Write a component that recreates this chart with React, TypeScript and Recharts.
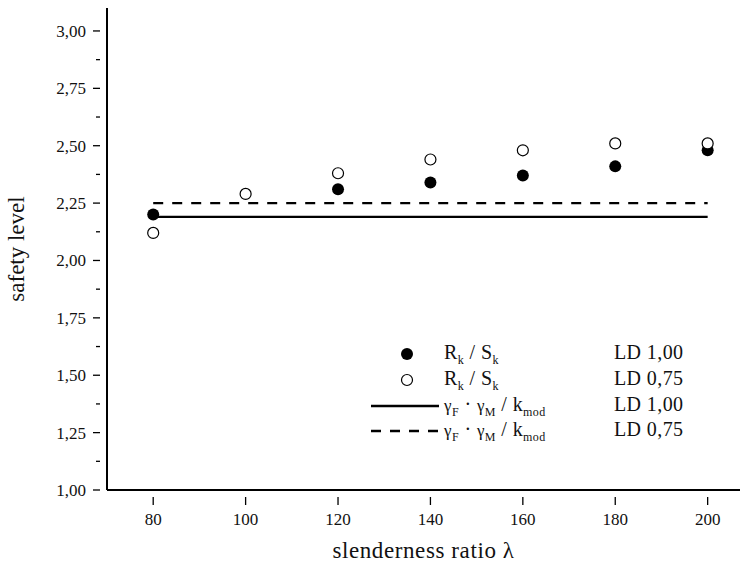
import { ComposedChart, Scatter, Line, XAxis, YAxis } from 'recharts';

const SLENDERNESS = [80, 100, 120, 140, 160, 180, 200];
// LD 1,00 has no value at 100
const RS_LD100: (number | null)[] = [2.2, null, 2.31, 2.34, 2.37, 2.41, 2.48];
const RS_LD075: (number | null)[] = [2.12, 2.29, 2.38, 2.44, 2.48, 2.51, 2.51];
const LINE_X = [80, 200];
const GAMMA_LD100 = [2.19, 2.19];
const GAMMA_LD075 = [2.25, 2.25];
const X_TICKS = [80, 100, 120, 140, 160, 180, 200];
const Y_TICKS = [1, 1.125, 1.25, 1.375, 1.5, 1.625, 1.75, 1.875, 2, 2.125, 2.25, 2.375, 2.5, 2.625, 2.75, 2.875, 3];

const FONT = '"Liberation Serif", "DejaVu Serif", serif';

const toPoints = (ys: (number | null)[]) =>
  SLENDERNESS.map((x, i) => ({ x, y: ys[i] })).filter((p) => p.y !== null);
const toLine = (ys: number[]) => LINE_X.map((x, i) => ({ x, y: ys[i] }));

const filledData = toPoints(RS_LD100);
const openData = toPoints(RS_LD075);
const solidData = toLine(GAMMA_LD100);
const dashedData = toLine(GAMMA_LD075);

const YTick = (props: any) => {
  const { x, y, payload } = props;
  const major = Math.abs((payload.value * 4) % 1) < 1e-6;
  return (
    <g>
      <line x1={x + 1} x2={x + 1 - (major ? 7 : 4)} y1={y} y2={y} stroke="#000" strokeWidth={1.3} />
      {major && (
        <text x={x - 13} y={y + 6} textAnchor="end" fontSize={17} fontFamily={FONT} fill="#111">
          {payload.value.toFixed(2).replace('.', ',')}
        </text>
      )}
    </g>
  );
};

const XTick = (props: any) => {
  const { x, y, payload } = props;
  return (
    <g>
      <line x1={x} x2={x} y1={y - 1} y2={y + 7} stroke="#000" strokeWidth={1.3} />
      <text x={x} y={y + 27} textAnchor="middle" fontSize={17} fontFamily={FONT} fill="#111">
        {payload.value}
      </text>
    </g>
  );
};

const LEGEND_ROWS = [
  { kind: 'filled', label: 'rs', ld: 'LD 1,00' },
  { kind: 'open', label: 'rs', ld: 'LD 0,75' },
  { kind: 'solid', label: 'gamma', ld: 'LD 1,00' },
  { kind: 'dashed', label: 'gamma', ld: 'LD 0,75' },
];

const subStyle = { fontSize: 12, verticalAlign: 'sub' as const, lineHeight: 0 };

const LegendBox = () => (
  <div style={{ position: 'absolute', left: 365, top: 341, width: 370, fontFamily: FONT, color: '#111' }}>
    {LEGEND_ROWS.map((r, i) => (
      <div key={i} style={{ position: 'relative', height: 25.8, width: 370 }}>
        <svg width={72} height={20} style={{ position: 'absolute', left: 6, top: 3 }}>
          {r.kind === 'filled' && <circle cx={36} cy={10} r={6} fill="#000" />}
          {r.kind === 'open' && <circle cx={36} cy={10} r={5.5} fill="#fff" stroke="#000" strokeWidth={1.2} />}
          {r.kind === 'solid' && <line x1={0} x2={68} y1={10} y2={10} stroke="#000" strokeWidth={2.4} />}
          {r.kind === 'dashed' && (
            <line x1={0} x2={68} y1={10} y2={10} stroke="#000" strokeWidth={2.4} strokeDasharray="10 9" />
          )}
        </svg>
        <div style={{ position: 'absolute', left: 79, top: 0, fontSize: 20, whiteSpace: 'nowrap', letterSpacing: 0.4 }}>
          {r.label === 'rs' ? (
            <span>
              R<span style={subStyle}>k</span> / S<span style={subStyle}>k</span>
            </span>
          ) : (
            <span>
              <span style={{ fontSize: 17 }}>γ</span>
              <span style={subStyle}>F</span> · <span style={{ fontSize: 17 }}>γ</span>
              <span style={subStyle}>M</span> / k<span style={subStyle}>mod</span>
            </span>
          )}
        </div>
        <div style={{ position: 'absolute', left: 249, top: 0, fontSize: 20, whiteSpace: 'nowrap', letterSpacing: 0.4 }}>
          {r.ld}
        </div>
      </div>
    ))}
  </div>
);

export default function App() {
  return (
    <div style={{ position: 'absolute', left: 0, top: 0, width: 742, height: 565, background: '#fff' }}>
      <ComposedChart width={742} height={565} margin={{ top: 8, right: 2, left: 0, bottom: 0 }}>
        <XAxis
          type="number"
          dataKey="x"
          domain={[70, 207]}
          ticks={X_TICKS}
          allowDataOverflow
          height={75}
          tick={<XTick />}
          tickLine={false}
          axisLine={{ stroke: '#000', strokeWidth: 2 }}
          label={{ value: 'slenderness ratio λ', position: 'insideBottom', offset: 7, fontSize: 23, fontFamily: FONT, fill: '#111', letterSpacing: 0.6 }}
        />
        <YAxis
          type="number"
          dataKey="y"
          domain={[1, 3.1]}
          ticks={Y_TICKS}
          allowDataOverflow
          interval={0}
          width={107}
          tick={<YTick />}
          tickLine={false}
          axisLine={{ stroke: '#000', strokeWidth: 2 }}
          label={{ value: 'safety level', angle: -90, position: 'insideLeft', offset: 16, fontSize: 23, fontFamily: FONT, fill: '#111', style: { textAnchor: 'middle' } }}
        />
        <Line data={solidData} dataKey="y" stroke="#000" strokeWidth={2.4} dot={false} isAnimationActive={false} />
        <Line data={dashedData} dataKey="y" stroke="#000" strokeWidth={2.4} strokeDasharray="10 9" dot={false} isAnimationActive={false} />
        <Scatter data={filledData} fill="#000" shape={(p: any) => <circle cx={p.cx} cy={p.cy} r={6} fill="#000" />} isAnimationActive={false} />
        <Scatter
          data={openData}
          fill="#fff"
          shape={(p: any) => <circle cx={p.cx} cy={p.cy} r={5.5} fill="#fff" stroke="#000" strokeWidth={1.2} />}
          isAnimationActive={false}
        />
      </ComposedChart>
      <LegendBox />
    </div>
  );
}
